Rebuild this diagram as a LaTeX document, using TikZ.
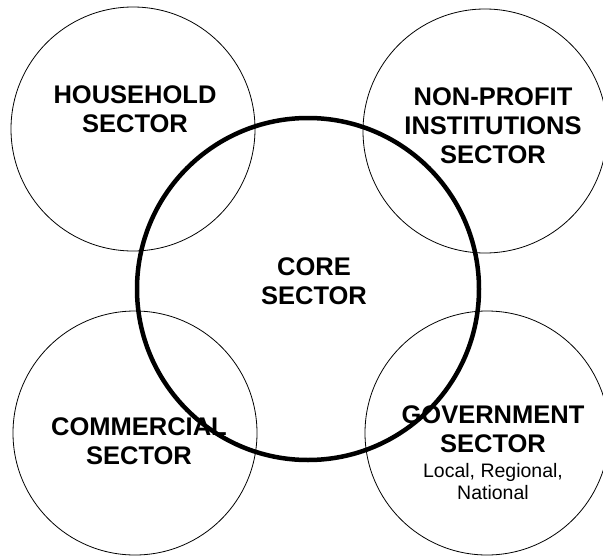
\documentclass[tikz,border=0pt]{standalone}
\usepackage{fontspec}
\setmainfont{Liberation Sans}

\tikzset{
  sector/.style={black, line width=0.8pt},
  coreline/.style={black, line width=4.5pt},
  bigname/.style={font=\fontsize{25.5}{29}\selectfont\bfseries, align=center, anchor=north, inner sep=0pt},
  smallname/.style={font=\fontsize{19.5}{22}\selectfont, align=center, anchor=north, inner sep=0pt}
}

\begin{document}
\begin{tikzpicture}[x=1pt, y=-1pt]
    \useasboundingbox (0,0) rectangle (603,557);

    % Outer sectors
    \draw[sector] (133,129) circle (122);
    \draw[sector] (485,131) circle (122);
    \draw[sector] (135,433) circle (122);
    \draw[sector] (487,433) circle (122);

    % Sector names
    \node[bigname] (household) at (135,85)  {HOUSEHOLD\\SECTOR};
    \node[bigname] (nonprofit) at (493,87)  {NON-PROFIT\\INSTITUTIONS\\SECTOR};
    \node[bigname] (commercial) at (139,417) {COMMERCIAL\\SECTOR};
    \node[bigname] (government) at (493,405) {GOVERNMENT\\SECTOR};
    \node[smallname] (levels) at (493,463) {Local, Regional,\\National};

    % Core sector on top
    \node[bigname] (core) at (314,257) {CORE\\SECTOR};
    \draw[coreline] (308,289) circle (171);
\end{tikzpicture}
\end{document}
